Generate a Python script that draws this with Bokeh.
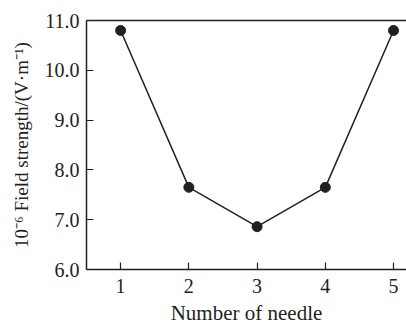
from bokeh.plotting import figure
from bokeh.models import LinearAxis, FixedTicker, Range1d
from bokeh.embed import file_html
from bokeh.resources import INLINE

needles = [1, 2, 3, 4, 5]
field = [10.8, 7.65, 6.86, 7.65, 10.8]
yticks = [6.0, 7.0, 8.0, 9.0, 10.0, 11.0]
ylabels = {6.0: "6.0", 7.0: "7.0", 8.0: "8.0", 9.0: "9.0", 10.0: "10.0", 11.0: "11.0"}

FONT = "Liberation Serif"
INK = "#231f20"

p = figure(width=406, height=328, output_backend="svg", toolbar_location=None,
           x_range=Range1d(0.5, 5.19), y_range=Range1d(6.0, 11.0),
           min_border_left=86, min_border_right=0, min_border_top=20, min_border_bottom=59)
p.outline_line_color = None
p.grid.visible = False
p.background_fill_color = "white"

p.line(needles, field, line_color=INK, line_width=1.5)
p.scatter(needles, field, size=10, fill_color=INK, line_color=INK)

for ax in [p.xaxis[0], p.yaxis[0]]:
    ax.axis_line_color = INK
    ax.axis_line_width = 1.5
    ax.major_tick_line_color = INK
    ax.major_tick_line_width = 1.2
    ax.major_tick_in = 7
    ax.major_tick_out = 0
    ax.minor_tick_line_color = None
    ax.major_label_text_font = FONT
    ax.major_label_text_font_size = "20px"
    ax.major_label_text_color = INK
    ax.axis_label_text_font = FONT
    ax.axis_label_text_font_style = "normal"
    ax.axis_label_text_color = INK

p.xaxis.ticker = FixedTicker(ticks=needles)
p.xaxis.axis_label = "Number of needle"
p.xaxis.axis_label_text_font_size = "21px"
p.xaxis.major_label_standoff = 9
p.xaxis.axis_label_standoff = 5

p.yaxis.ticker = FixedTicker(ticks=yticks)
p.yaxis.major_label_overrides = ylabels
p.yaxis.axis_label = "10\u207b\u2076 Field strength/(V\u00b7m\u207b\u00b9)"
p.yaxis.axis_label_text_font_size = "19px"
p.yaxis.major_label_standoff = 7
p.yaxis.axis_label_standoff = 10

top = LinearAxis(ticker=FixedTicker(ticks=[]), major_label_text_font_size="0px",
                 axis_line_color=INK, axis_line_width=1.5,
                 major_tick_line_color=None, minor_tick_line_color=None)
p.add_layout(top, "above")

open("out.html", "w").write(file_html(p, INLINE))
